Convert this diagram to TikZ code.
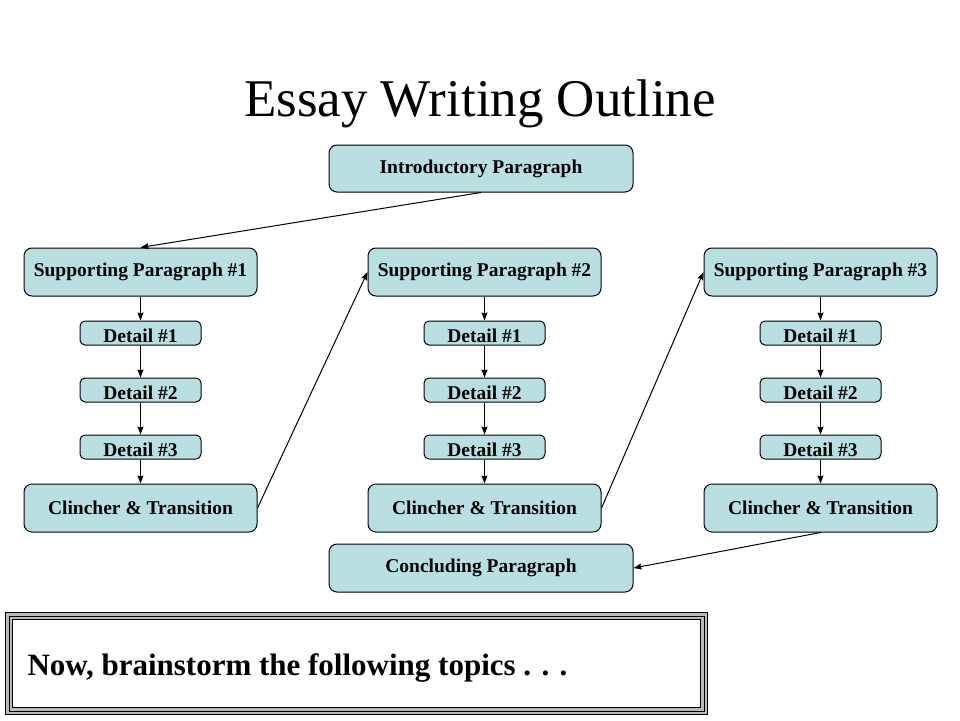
\documentclass[tikz,border=0pt]{standalone}
\usepackage{fontspec}
\setmainfont{Liberation Serif}
\usepackage{tikz}
\usetikzlibrary{arrows.meta}
\usetikzlibrary{positioning}
\definecolor{boxblue}{RGB}{185,223,227}

\begin{document}
\begin{tikzpicture}[x=1pt,y=1pt,->,>={Stealth[length=8pt,width=6pt,inset=1pt]},line width=1pt,
  main node/.style={rectangle,rounded corners=8pt,draw,fill=boxblue,minimum width=233pt,minimum height=48pt,inner sep=0pt,font=\bfseries\fontsize{19.5}{20}\selectfont},
  wide node/.style={main node,minimum width=304pt,minimum height=47pt},
  detail node/.style={main node,rounded corners=5pt,minimum width=121pt,minimum height=24pt,text height=19pt,text depth=0pt}]

  \useasboundingbox (0,0) rectangle (960,-720);

  \node[anchor=base,font=\fontsize{53}{60}\selectfont] (title) at (480,-116) {Essay Writing Outline};

  \node[wide node] (intro) at (481,-168.5) {Introductory Paragraph};

  % first body paragraph
  \node[main node] (sp1) at (140.5,-272) {Supporting Paragraph \#1};
  \node[detail node] (d11) [below=24pt of sp1] {Detail \#1};
  \node[detail node] (d12) [below=32pt of d11] {Detail \#2};
  \node[detail node] (d13) [below=32pt of d12] {Detail \#3};
  \node[main node] (c1) [below=24pt of d13] {Clincher \& Transition};

  % second body paragraph
  \node[main node] (sp2) at (484.5,-272) {Supporting Paragraph \#2};
  \node[detail node] (d21) [below=24pt of sp2] {Detail \#1};
  \node[detail node] (d22) [below=32pt of d21] {Detail \#2};
  \node[detail node] (d23) [below=32pt of d22] {Detail \#3};
  \node[main node] (c2) [below=24pt of d23] {Clincher \& Transition};

  % third body paragraph
  \node[main node] (sp3) at (820.5,-272) {Supporting Paragraph \#3};
  \node[detail node] (d31) [below=24pt of sp3] {Detail \#1};
  \node[detail node] (d32) [below=32pt of d31] {Detail \#2};
  \node[detail node] (d33) [below=32pt of d32] {Detail \#3};
  \node[main node] (c3) [below=24pt of d33] {Clincher \& Transition};

  \node[wide node,minimum height=48pt] (concl) at (481,-568) {Concluding Paragraph};

  \path (intro.south) edge (sp1.north)
    (c1.east) edge (sp2.west)
    (c2.east) edge (sp3.west)
    (c3.south) edge (concl.east);

  \path (sp1) edge (d11) (d11) edge (d12) (d12) edge (d13) (d13) edge (c1)
    (sp2) edge (d21) (d21) edge (d22) (d22) edge (d23) (d23) edge (c2)
    (sp3) edge (d31) (d31) edge (d32) (d32) edge (d33) (d33) edge (c3);

  % framed prompt
  \draw[-,gray!55,line width=7pt] (9,-616) rectangle (704,-711);
  \draw[-,line width=1.5pt] (5.5,-612.5) rectangle (707.5,-714.5);
  \draw[-,line width=0.8pt] (9,-616) rectangle (704,-711);
  \draw[-,line width=1.2pt] (12.5,-619.5) rectangle (700.5,-707.5);
  \node[anchor=base west,inner sep=0pt,font=\bfseries\fontsize{31}{36}\selectfont] (prompt) at (27,-675) {Now, brainstorm the following topics . . .};
\end{tikzpicture}
\end{document}
